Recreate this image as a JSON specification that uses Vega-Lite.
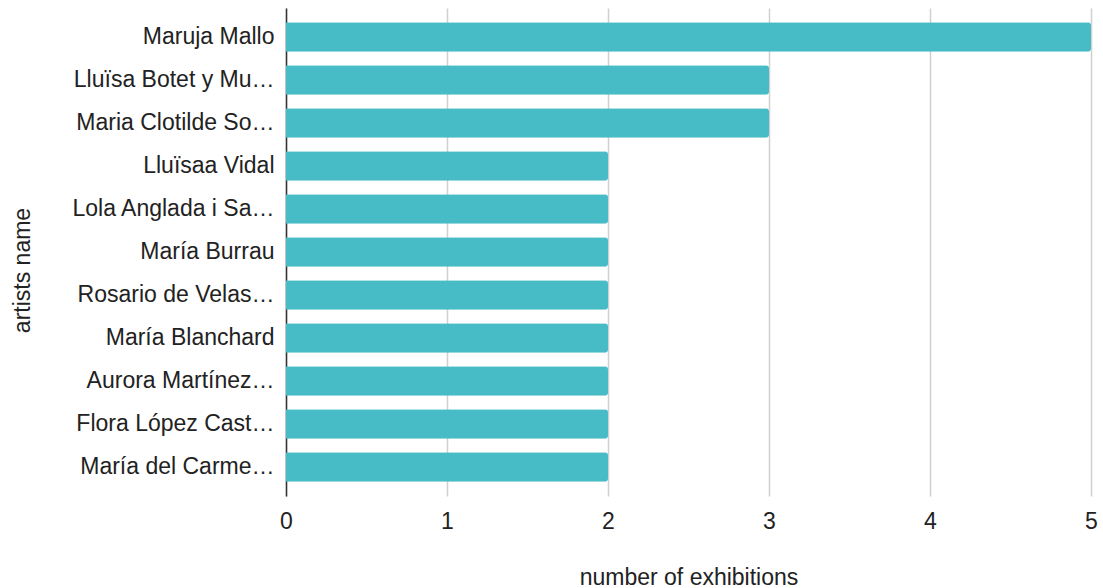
{
  "$schema": "https://vega.github.io/schema/vega-lite/v6.json",
  "width": 805,
  "height": 488,
  "autosize": {"type": "none"},
  "padding": {"left": 286, "top": 8, "right": 12, "bottom": 92},
  "background": "white",
  "config": {
    "font": "Liberation Sans",
    "view": {"stroke": null}
  },
  "data": {
    "values": [
      {"artist": "Maruja Mallo", "exhibitions": 5},
      {"artist": "Lluïsa Botet y Mu…", "exhibitions": 3},
      {"artist": "Maria Clotilde So…", "exhibitions": 3},
      {"artist": "Lluïsaa Vidal", "exhibitions": 2},
      {"artist": "Lola Anglada i Sa…", "exhibitions": 2},
      {"artist": "María Burrau", "exhibitions": 2},
      {"artist": "Rosario de Velas…", "exhibitions": 2},
      {"artist": "María Blanchard", "exhibitions": 2},
      {"artist": "Aurora Martínez…", "exhibitions": 2},
      {"artist": "Flora López Cast…", "exhibitions": 2},
      {"artist": "María del Carme…", "exhibitions": 2}
    ]
  },
  "mark": {"type": "bar", "color": "#47BCC6", "cornerRadiusEnd": 3},
  "encoding": {
    "y": {
      "field": "artist",
      "type": "nominal",
      "sort": null,
      "scale": {"paddingInner": 0.31, "paddingOuter": 0.33},
      "axis": {
        "title": "artists name",
        "titleFont": "Liberation Sans",
        "titleFontSize": 23,
        "titleFontWeight": "normal",
        "titleColor": "#222",
        "titleAngle": -90,
        "titleX": -264,
        "titleY": 262,
        "titleAlign": "center",
        "titleBaseline": "middle",
        "labelFont": "Liberation Sans",
        "labelFontSize": 23,
        "labelColor": "#222",
        "labelLimit": 400,
        "labelPadding": 12,
        "ticks": false,
        "domainColor": "#333",
        "domainWidth": 1.5
      }
    },
    "x": {
      "field": "exhibitions",
      "type": "quantitative",
      "scale": {"domain": [0, 5], "nice": false},
      "axis": {
        "title": "number of exhibitions",
        "titleFont": "Liberation Sans",
        "titleFontSize": 23,
        "titleFontWeight": "normal",
        "titleColor": "#222",
        "titleBaseline": "middle",
        "titleY": 81,
        "values": [0, 1, 2, 3, 4, 5],
        "labelFont": "Liberation Sans",
        "labelFontSize": 23,
        "labelColor": "#222",
        "labelPadding": 14,
        "labelFlush": false,
        "ticks": false,
        "domain": false,
        "grid": true,
        "gridColor": "#d0d0d0",
        "gridWidth": 1.5
      }
    }
  }
}
